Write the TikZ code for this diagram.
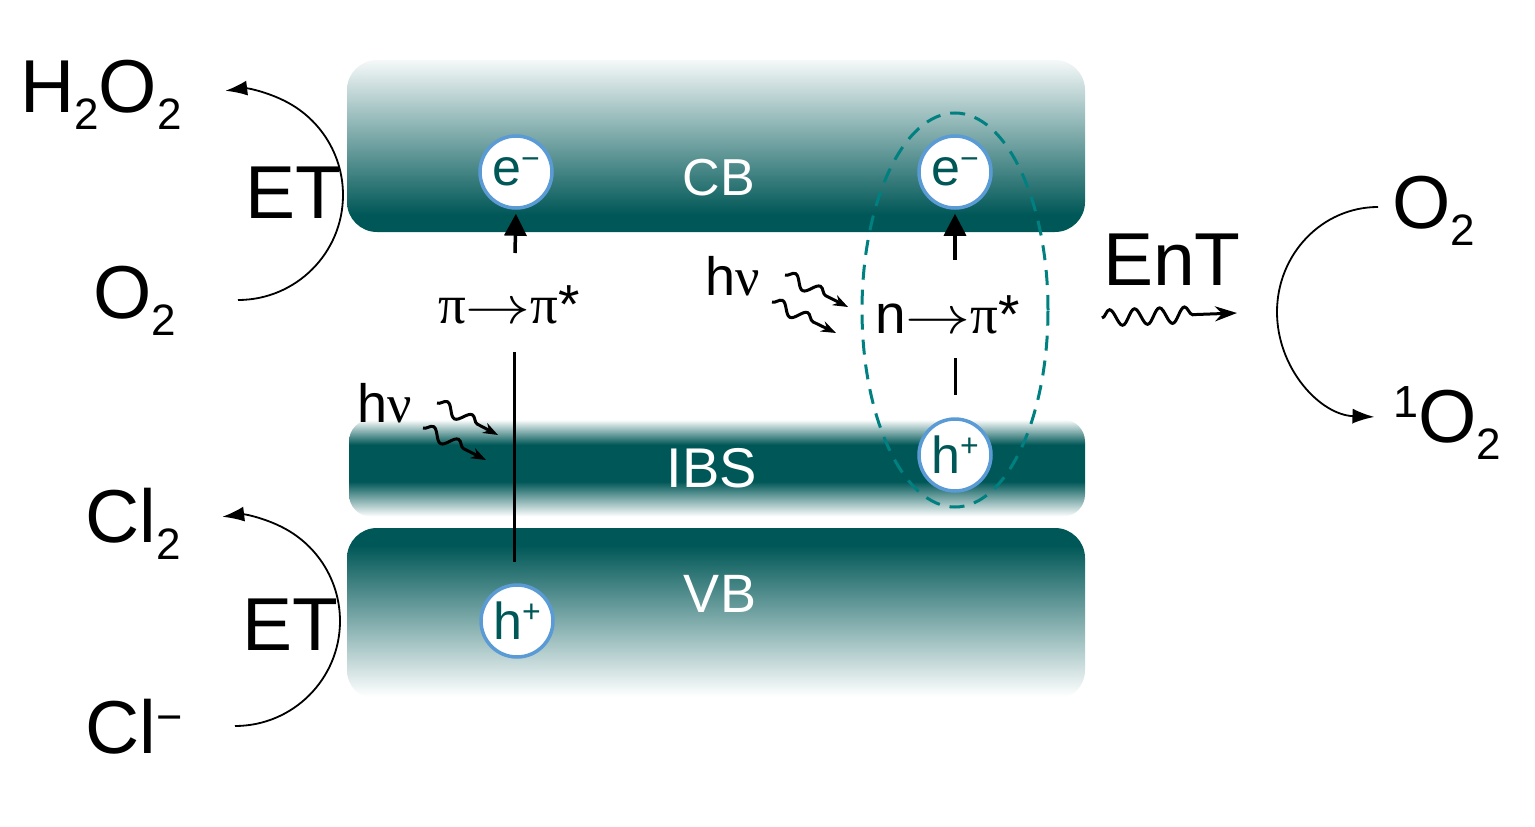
\documentclass[tikz,border=0pt]{standalone}
\usepackage{fontspec}
\setmainfont{Liberation Sans}
\newfontfamily\serifgr{Liberation Serif}
\usepackage{graphicx}
\usetikzlibrary{arrows.meta,decorations.pathmorphing,shapes.geometric}
\definecolor{tealdk}{RGB}{0,87,87}
\definecolor{tealmid}{RGB}{0,128,128}
\definecolor{cblue}{RGB}{91,155,213}
\colorlet{cbtop}{tealdk!4}
\pgfdeclareverticalshading{cbshade}{100bp}{color(0bp)=(tealdk); color(25bp)=(tealdk); color(30bp)=(tealdk); color(75bp)=(cbtop); color(100bp)=(cbtop)}
\pgfdeclareverticalshading{vbshade}{100bp}{color(0bp)=(white); color(26bp)=(white); color(70bp)=(tealdk); color(75bp)=(tealdk); color(100bp)=(tealdk)}
\pgfdeclareverticalshading{ibsshade}{100bp}{color(0bp)=(white); color(25bp)=(white); color(43bp)=(tealdk); color(62bp)=(tealdk); color(75bp)=(white); color(100bp)=(white)}
\newcommand\lsub[1]{\raisebox{-17pt}{\fontsize{44}{44}\selectfont #1}}
\newcommand\esupm{\raisebox{16pt}{\fontsize{32}{32}\selectfont −}}
\newcommand\hsupp{\raisebox{17pt}{\fontsize{32}{32}\selectfont +}}
\newcommand\trarr{{\fontsize{10}{10}\selectfont\scalebox{6.5}[5.3]{$\rightarrow$}}}
\begin{document}
\begin{tikzpicture}[x=1pt,y=-1pt,
  band/.style={shade, rounded corners=30pt, inner sep=0pt, outer sep=0pt},
  carrier/.style={circle, draw=cblue, line width=3.5pt, fill=white, minimum size=72pt, inner sep=0pt, text=tealdk, font=\fontsize{52}{52}\selectfont},
  bandlbl/.style={text=white, anchor=base, inner sep=0pt},
  big/.style={anchor=base west, inner sep=0pt, font=\fontsize{75}{75}\selectfont},
  trans/.style={anchor=base west, inner sep=0pt, font=\fontsize{55}{55}\selectfont},
  hvlbl/.style={anchor=base west, inner sep=0pt, font=\fontsize{54}{54}\selectfont},
  vup/.style={line width=3.5pt, -{Triangle[length=22pt,width=22pt]}, shorten >=4pt},
  rxn/.style={line width=1.8pt, -{Latex[length=22pt,width=15pt]}},
  photon/.style={decorate, decoration={snake, amplitude=6pt, segment length=28pt, post length=18pt}, line width=3pt, -{Stealth[length=15pt,width=11pt]}},
  entwave/.style={decorate, decoration={snake, amplitude=8pt, segment length=25pt, post length=36pt}, line width=3pt, -{Stealth[length=22pt,width=15pt]}}
]
\useasboundingbox (0,0) rectangle (1535,827);
% bands
\node[band, shading=cbshade, minimum width=738pt, minimum height=172pt] (cb) at (716,146) {};
\node[band, shading=ibsshade, rounded corners=22pt, minimum width=736pt, minimum height=97pt] (ibs) at (717,468) {};
\node[band, shading=vbshade, minimum width=738pt, minimum height=172pt] (vb) at (716,614) {};
\node[bandlbl, font=\fontsize{52}{52}\selectfont] (cbl) at (719,195) {CB};
\node[bandlbl, font=\fontsize{56}{56}\selectfont] (ibsl) at (712,487) {IBS};
\node[bandlbl, font=\fontsize{54}{54}\selectfont] (vbl) at (720,612) {VB};
% exciton ellipse
\node[ellipse, draw=tealmid, line width=3pt, dash pattern=on 15pt off 10pt, minimum width=186pt, minimum height=394pt, inner sep=0pt] (exc) at (955,310) {};
% carriers
\node[carrier] (e1) at (516,172) {e\esupm};
\node[carrier] (e2) at (955,172) {e\esupm};
\node[carrier] (h2) at (955,455) {h\hsupp};
\node[carrier] (h1) at (517,621) {h\hsupp};
% transitions
\coordinate (a1) at (515,253);
\draw[vup] (a1) -- (e1.south);
\coordinate (a2) at (955,260);
\draw[vup] (a2) -- (e2.south);
\coordinate (l1) at (514,352);
\coordinate (l2) at (514,562);
\draw[line width=3pt] (l1) -- (l2);
\coordinate (l3) at (955,358);
\coordinate (l4) at (955,395);
\draw[line width=3pt] (l3) -- (l4);
\node[trans] (pp) at (438,323) {{\serifgr π}\trarr{\serifgr π}*};
\node[trans] (np) at (875,333) {n\trarr{\serifgr π}*};
% light
\node[hvlbl] (hv1) at (357,422) {h{\serifgr ν}};
\node[hvlbl] (hv2) at (705,295) {h{\serifgr ν}};
\coordinate (w1s) at (437,403); \coordinate (w1e) at (498,435);
\coordinate (w2s) at (423,428); \coordinate (w2e) at (486,460);
\coordinate (w3s) at (785,275); \coordinate (w3e) at (848,307);
\coordinate (w4s) at (772,302); \coordinate (w4e) at (836,333);
\draw[photon] (w1s) -- (w1e);
\draw[photon] (w2s) -- (w2e);
\draw[photon] (w3s) -- (w3e);
\draw[photon] (w4s) -- (w4e);
% left reactions
\node[big] (h2o2) at (20,112) {H\lsub{2}O\lsub{2}};
\node[big] (et1) at (245,218) {ET};
\node[big] (o2a) at (93,318) {O\lsub{2}};
\node[big] (cl2) at (85,542) {Cl\lsub{2}};
\node[big] (et2) at (242,650) {ET};
\node[big] (clm) at (85,753) {Cl\raisebox{21pt}{\fontsize{45}{45}\selectfont −}};
\coordinate (t1) at (238,300);
\draw[rxn] (t1) arc[start angle=90, end angle=-97, radius=105];
\coordinate (t2) at (235,726);
\draw[rxn] (t2) arc[start angle=90, end angle=-97, radius=105];
% right reactions
\node[big] (ent) at (1103,285) {EnT};
\coordinate (ws) at (1102,318); \coordinate (we) at (1237,313);
\draw[entwave] (ws) -- (we);
\node[big] (o2b) at (1392,228) {O\lsub{2}};
\node[big] (o2s) at (1393,442) {\raisebox{25pt}{\fontsize{45}{45}\selectfont 1}O\lsub{2}};
\coordinate (t3) at (1378,207);
\draw[rxn] (t3) arc[start angle=270, end angle=92, x radius=101, y radius=105];
\end{tikzpicture}
\end{document}
